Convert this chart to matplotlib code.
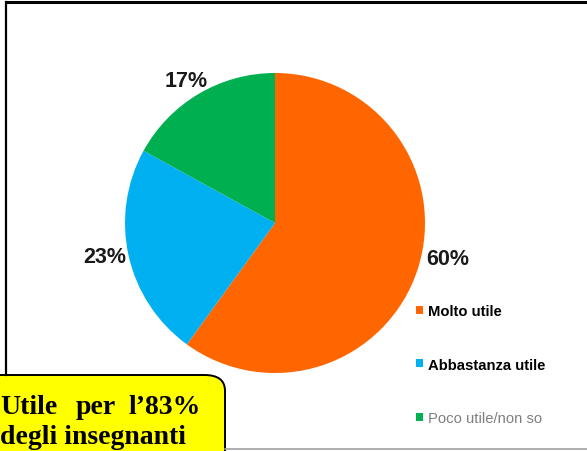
import matplotlib.pyplot as plt
from matplotlib.patches import FancyBboxPatch
from matplotlib.lines import Line2D

# dati
categorie = ["Molto utile", "Abbastanza utile", "Poco utile/non so"]
valori = [60, 23, 17]
colori = ["#FF6600", "#00B0F0", "#00B050"]
colori_testo = ["black", "black", "#7F7F7F"]
pesi_testo = ["bold", "bold", "normal"]

W, H = 587, 452
fig = plt.figure(figsize=(W / 100, H / 100), dpi=100)
fig.patch.set_facecolor("white")

def fx(px):
    return px / W

def fy(py):
    return 1 - py / H

# cornice
fig.add_artist(Line2D([fx(6), fx(6)], [fy(3), fy(376)], color="black", lw=1.6))
fig.add_artist(Line2D([fx(6), fx(587)], [fy(3), fy(3)], color="black", lw=2.2))
fig.add_artist(Line2D([fx(225), fx(587)], [fy(450), fy(450)], color="#A0A0A0", lw=1.2))

# torta
ax = fig.add_axes([fx(125), fy(374), 300 / W, 300 / H])
wedges, texts, autotexts = ax.pie(
    valori, colors=colori, startangle=90, counterclock=False,
    autopct="%d%%", pctdistance=1.16, radius=1,
    textprops=dict(fontsize=15.5, fontweight="bold", color="#1a1a1a",
                   family="Liberation Sans"))
# piccoli spostamenti delle etichette come nell'originale
spost = [(0.05, 0.12), (0.0, 0.03), (0.0, -0.05)]
for t, (dx, dy) in zip(autotexts, spost):
    x, y = t.get_position()
    t.set_position((x + dx, y + dy))
ax.set_xlim(-1, 1)
ax.set_ylim(-1, 1)
ax.set_aspect("equal")
ax.axis("off")

leg = fig.legend(wedges, categorie, loc="upper left",
                 bbox_to_anchor=(fx(403), fy(292)), frameon=False,
                 prop=dict(family="Liberation Sans", size=10.7),
                 handlelength=0.45, handleheight=0.45, handletextpad=0.35,
                 labelspacing=2.65)
for t, c, w in zip(leg.get_texts(), colori_testo, pesi_testo):
    t.set_color(c)
    t.set_fontweight(w)

# riquadro giallo
box = FancyBboxPatch((fx(-30), fy(490)), fx(255), (490 - 376) / H,
                     boxstyle="round,pad=0,rounding_size=0.035",
                     transform=fig.transFigure, facecolor="#FFFF00",
                     edgecolor="black", lw=1.4, clip_on=False)
fig.add_artist(box)
serif = dict(family="Liberation Serif", fontweight="bold", size=20, color="black")
fig.text(fx(0), fy(414), "Utile", va="baseline", ha="left", **serif)
fig.text(fx(76), fy(414), "per", va="baseline", ha="left", **serif)
fig.text(fx(201), fy(414), "l\u201983%", va="baseline", ha="right", **serif)
fig.text(fx(0), fy(444), "degli insegnanti", va="baseline", ha="left", **serif)

fig.savefig("out.png", dpi=100)
